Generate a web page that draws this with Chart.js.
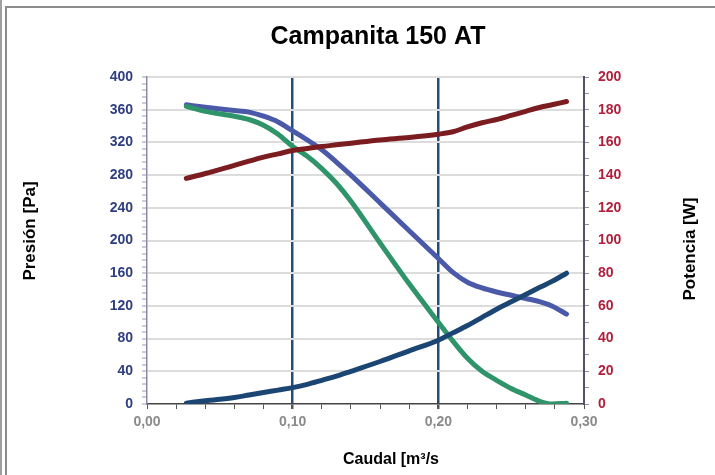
<!DOCTYPE html>
<html>
<head>
<meta charset="utf-8">
<script src="https://cdn.jsdelivr.net/npm/chart.js@4.4.1/dist/chart.umd.min.js"></script>
<style>
  html, body { margin: 0; padding: 0; background: #fff; }
  #wrap { position: relative; width: 715px; height: 475px; overflow: hidden; }
  #chart { position: absolute; left: 0; top: 0; }
  .edge { position: absolute; background: #8c8c8c; }
</style>
</head>
<body>
<div id="wrap">
  <canvas id="chart" width="715" height="475"></canvas>
  <div class="edge" style="left:0;top:0;width:2px;height:475px;background:#a0a0a0"></div>
  <div class="edge" style="left:5px;top:7px;width:2px;height:468px"></div>
  <div class="edge" style="left:5px;top:6px;width:710px;height:2px"></div>
</div>
<script>
// --- data ---
const caudal     = [0.027, 0.04, 0.06, 0.07, 0.08, 0.09, 0.10, 0.11, 0.12, 0.13, 0.14, 0.16, 0.18, 0.20, 0.21, 0.22, 0.23, 0.24, 0.25, 0.26, 0.27, 0.278, 0.288];
const presionA   = [366, 363, 359, 357, 352, 345, 334, 323, 311, 296, 280, 246, 212, 178, 161, 149, 142, 137, 133, 129, 125, 120, 110];
const presionB   = [364, 358, 352, 348, 341, 330, 315, 303, 288, 270, 248, 197, 147, 100, 77, 56, 40, 29, 19, 11, 3, 0, 1];
const potencia   = [138, 141, 146, 148.5, 151, 153, 155, 156.3, 157.5, 158.5, 159.5, 161.5, 163, 165, 166.5, 169.5, 172, 174, 176.5, 179, 181.5, 183, 185];
const sistema    = [1, 4, 8, 11, 14, 17, 20, 24, 29, 34, 40, 52, 65, 78, 87, 96, 106, 116, 125, 134, 143, 150, 160];
const marcas     = [0.10, 0.20];
const xTicks     = [0, 0.10, 0.20, 0.30];
const xLabels    = ['0,00', '0,10', '0,20', '0,30'];
const yTicksPa   = [0, 40, 80, 120, 160, 200, 240, 280, 320, 360, 400];
const yTicksW    = [0, 20, 40, 60, 80, 100, 120, 140, 160, 180, 200];

const pts = ys => caudal.map((x, i) => ({ x: x, y: ys[i] }));
const near = (a, b) => Math.abs(a - b) < 1e-6;
const isMarca = v => marcas.some(m => near(m, v));
const range = (min, max, step) => {
    const out = [];
    for (let i = 0; min + i * step <= max + 1e-9; i++) out.push({ value: +(min + i * step).toFixed(4) });
    return out;
};

const FONT = '"Liberation Sans", Arial, sans-serif';

// titles drawn on top of the chart (the right title reads bottom-to-top)
const textos = {
    id: 'textos',
    afterDraw(chart) {
        const c = chart.ctx;
        c.save();
        c.fillStyle = '#000';
        c.textAlign = 'center';
        c.textBaseline = 'middle';
        c.font = 'bold 25px ' + FONT;
        c.fillText('Campanita 150 AT', 378, 37);
        c.font = 'bold 16px ' + FONT;
        c.fillText('Caudal [m\u00b3/s', 391, 460);
        c.font = 'bold 17px ' + FONT;
        c.save();
        c.translate(30, 231);
        c.rotate(-Math.PI / 2);
        c.fillText('Presión [Pa]', 0, 0);
        c.restore();
        c.save();
        c.translate(690, 249);
        c.rotate(-Math.PI / 2);
        c.fillText('Potencia [W]', 0, 0);
        c.restore();
        c.restore();
    }
};

const linea = (data, color, axis, order) => ({
    data: data,
    yAxisID: axis,
    borderColor: color,
    backgroundColor: color,
    borderWidth: 5,
    borderCapStyle: 'round',
    borderJoinStyle: 'round',
    pointRadius: 0,
    cubicInterpolationMode: 'monotone',
    fill: false,
    order: order
});

new Chart(document.getElementById('chart'), {
    type: 'line',
    data: {
        datasets: [
            linea(pts(sistema), '#1b4673', 'y', 1),
            linea(pts(potencia), '#7b1c20', 'y1', 2),
            linea(pts(presionB), '#2f946a', 'y', 3),
            linea(pts(presionA), '#4a5aa8', 'y', 4)
        ]
    },
    options: {
        responsive: false,
        animation: false,
        devicePixelRatio: 1,
        layout: { padding: { top: 77, left: 0, right: 0, bottom: 0 } },
        plugins: { legend: { display: false }, tooltip: { enabled: false }, title: { display: false } },
        scales: {
            x: {
                type: 'linear',
                min: 0,
                max: 0.3,
                afterBuildTicks: s => { s.ticks = range(0, 0.3, 0.02); },
                afterFit: s => { s.height = 71; },
                ticks: {
                    autoSkip: false,
                    maxRotation: 0,
                    padding: 5,
                    color: '#8a8a8a',
                    font: { family: FONT, size: 14, weight: 'bold' },
                    callback: v => {
                        const i = xTicks.findIndex(t => near(t, v));
                        return i >= 0 ? xLabels[i] : '';
                    }
                },
                grid: {
                    drawOnChartArea: true,
                    color: c => (c.tick && isMarca(c.tick.value)) ? '#244d7a' : 'rgba(0,0,0,0)',
                    lineWidth: c => (c.tick && isMarca(c.tick.value)) ? 2.5 : 1,
                    tickColor: '#555',
                    tickLength: 5
                },
                border: { color: '#444', width: 1.5 }
            },
            y: {
                position: 'left',
                min: 0,
                max: 400,
                afterBuildTicks: s => { s.ticks = range(0, 400, 8); },
                afterFit: s => { s.width = 147; },
                ticks: {
                    autoSkip: false,
                    padding: 9,
                    color: '#2f3e80',
                    font: { family: FONT, size: 14, weight: 'bold' },
                    callback: v => yTicksPa.includes(v) ? String(v) : ''
                },
                grid: {
                    color: c => (c.tick && yTicksPa.includes(c.tick.value) && c.tick.value > 0) ? '#dcdcdc' : 'rgba(0,0,0,0)',
                    lineWidth: 2,
                    tickColor: '#9a9ab4',
                    tickLength: 5,
                    tickWidth: 1
                },
                border: { color: '#8a8aa8', width: 1.5 }
            },
            y1: {
                position: 'right',
                min: 0,
                max: 200,
                afterBuildTicks: s => { s.ticks = range(0, 200, 10); },
                afterFit: s => { s.width = 131; },
                ticks: {
                    autoSkip: false,
                    padding: 9,
                    color: '#b0203c',
                    font: { family: FONT, size: 14, weight: 'bold' },
                    callback: v => yTicksW.includes(v) ? String(v) : ''
                },
                grid: {
                    drawOnChartArea: false,
                    tickColor: '#9a8aa0',
                    tickLength: 5
                },
                border: { color: '#555070', width: 2 }
            }
        }
    },
    plugins: [textos]
});
</script>
</body>
</html>
